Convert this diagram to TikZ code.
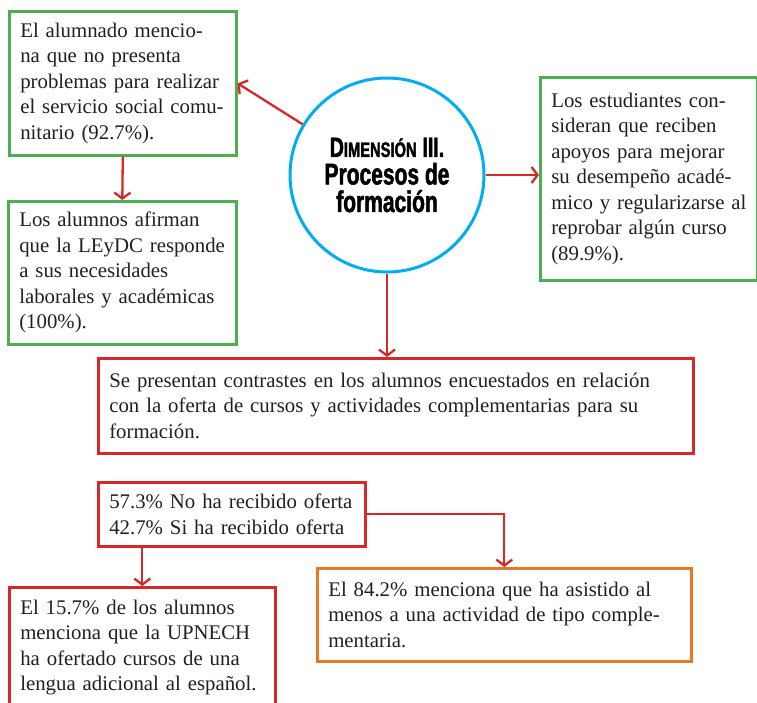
\documentclass[tikz,border=0pt]{standalone}
\usepackage{fontspec}
\setmainfont{Liberation Serif}
\newfontfamily\titlefont[FakeStretch=0.70,FakeBold=1.6]{Liberation Sans}
\usetikzlibrary{arrows.meta}
\definecolor{gbox}{RGB}{76,175,80}
\definecolor{rbox}{RGB}{214,40,40}
\definecolor{obox}{RGB}{226,122,40}
\definecolor{cblue}{RGB}{0,174,239}
\definecolor{txt}{RGB}{35,31,32}
\begin{document}
\begin{tikzpicture}[x=1pt,y=-1pt,
  box/.style={draw, line width=2.6pt, inner xsep=11pt, inner ysep=0pt, align=left,
    anchor=north west, text=txt, font=\fontsize{20.8}{25.5}\selectfont},
  arr/.style={draw=rbox, line width=2.3pt, -{Straight Barb[length=6pt,width=16pt]}}]
\clip (0,0) rectangle (757,702);
\useasboundingbox (0,0) rectangle (757,702);
\fill[white] (0,0) rectangle (757,702);

\node[box, draw=gbox, text width=205pt, minimum width=227pt, minimum height=144pt] (A) at (8,10)
 {El alumnado mencio-\\na que no presenta\\problemas para realizar\\el servicio social comu-\\nitario (92.7\%).};
\node[box, draw=gbox, text width=206pt, minimum width=228pt, minimum height=143pt] (B) at (7,200)
 {Los alumnos afirman\\que la LEyDC responde\\a sus necesidades\\laborales y académicas\\(100\%).};
\node[box, draw=gbox, text width=195pt, minimum width=217pt, minimum height=203pt] (C) at (539,76)
 {Los estudiantes con-\\sideran que reciben\\apoyos para mejorar\\su desempeño acadé-\\\mbox{mico y regularizarse al}\\reprobar algún curso\\(89.9\%).};
\node[circle, draw=cblue, line width=3pt, minimum size=194pt, inner sep=0pt, align=center, text=black,
  font=\titlefont\bfseries\fontsize{30}{27.5}\selectfont] (circ) at (387,175)
 {{\fontsize{28}{27.5}\selectfont D}{\fontsize{21}{27.5}\selectfont IMENSIÓN} {\fontsize{28}{27.5}\selectfont III.}\\Procesos de\\formación};
\node[box, draw=rbox, text width=573pt, minimum width=595pt, minimum height=95pt] (D) at (97,357)
 {Se presentan contrastes en los alumnos encuestados en relación\\con la oferta de cursos y actividades complementarias para su\\formación.};
\node[box, draw=rbox, text width=245pt, minimum width=267pt, minimum height=64pt] (E) at (97,481)
 {57.3\% No ha recibido oferta\\42.7\% Si ha recibido oferta};
\node[box, draw=rbox, text width=244pt, minimum width=266pt, minimum height=120pt] (F) at (8,586)
 {El 15.7\% de los alumnos\\menciona que la UPNECH\\ha ofertado cursos de una\\lengua adicional al español.};
\node[box, draw=obox, text width=352pt, minimum width=374pt, minimum height=93pt] (G) at (316,567)
 {El 84.2\% menciona que ha asistido al\\menos a una actividad de tipo comple-\\mentaria.};

\draw[arr] (circ.149) -- (A.east);
\draw[arr] (circ.east) -- (circ.east -| C.west);
\draw[arr] (A.south) -- (B.north);
\draw[arr] (circ.south) -- (circ.south |- D.north);
\draw[arr] (F.north |- E.south) -- (F.north);
\draw[arr] (E.east) -| (G.north);
\end{tikzpicture}
\end{document}
